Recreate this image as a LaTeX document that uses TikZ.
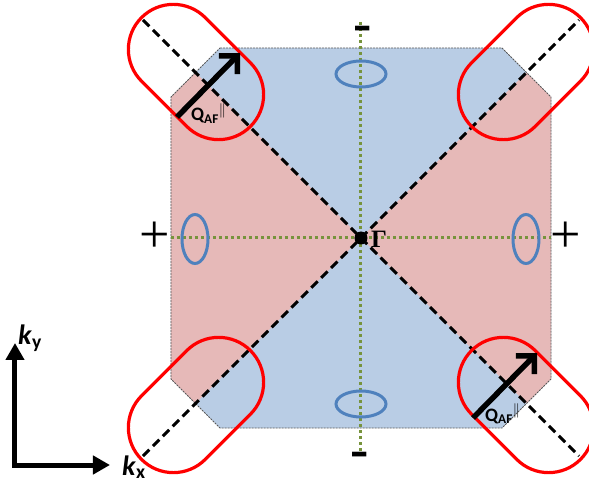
\documentclass[tikz,border=0pt]{standalone}
\usepackage{fontspec}
\setmainfont{Carlito}
\newfontfamily\serifT{Liberation Serif}
\usetikzlibrary{arrows.meta}
\definecolor{pinkfill}{HTML}{E6B9B8}
\definecolor{bluefill}{HTML}{B9CDE5}
\definecolor{ellblue}{HTML}{4F81BD}
\definecolor{axgreen}{HTML}{77933C}
\definecolor{octgray}{HTML}{595959}
\newcommand\capsuleshape[3]{%
  \begin{scope}[shift={(#1,#2)},rotate=#3]
    \draw[capsule] (-32,-45) -- (32,-45) arc[start angle=-90,end angle=90,radius=45]
      -- (-32,45) arc[start angle=90,end angle=270,radius=45] -- cycle;
  \end{scope}}
\begin{document}
\begin{tikzpicture}[x=1pt,y=1pt,
  octborder/.style={draw=octgray,line width=0.8pt,dash pattern=on 2pt off 1pt},
  greendot/.style={draw=axgreen,line width=3pt,dash pattern=on 3pt off 3pt},
  ellstyle/.style={draw=ellblue,line width=3pt},
  diag/.style={draw=black,line width=3pt,dash pattern=on 9pt off 5pt},
  capsule/.style={draw=red,line width=3.2pt},
  qarrow/.style={draw=black,line width=5.5pt,-{Straight Barb[length=13pt,width=26pt]}},
  axarrow/.style={draw=black,line width=5pt,-{Triangle[length=17pt,width=18pt]}},
  pm/.style={font=\serifT\fontsize{54}{54}\selectfont,inner sep=0pt,text height=27pt,text depth=0pt},
  mn/.style={font=\serifT\bfseries\fontsize{55}{55}\selectfont,inner sep=0pt,text height=21.4pt,text depth=0pt},
  qlab/.style={font=\bfseries\fontsize{19}{19}\selectfont,inner sep=0pt,anchor=base west},
  klab/.style={font=\bfseries\fontsize{28}{28}\selectfont,inner sep=0pt,anchor=base west}]
\useasboundingbox (-361,-246) rectangle (228,238);
% Brillouin zone
\fill[bluefill] (-141,190) -- (141,190) -- (190,141) -- (190,-141) -- (141,-190) -- (-141,-190) -- (-190,-141) -- (-190,141) -- cycle;
\begin{scope}
  \clip (-141,190) -- (141,190) -- (190,141) -- (190,-141) -- (141,-190) -- (-141,-190) -- (-190,-141) -- (-190,141) -- cycle;
  \fill[pinkfill] (0,0) -- (-300,300) -- (-300,-300) -- cycle;
  \fill[pinkfill] (0,0) -- (300,300) -- (300,-300) -- cycle;
\end{scope}
\draw[octborder] (-141,190) -- (141,190) -- (190,141) -- (190,-141) -- (141,-190) -- (-141,-190) -- (-190,-141) -- (-190,141) -- cycle;
% green axes
\coordinate (vt) at (0,216); \coordinate (vb) at (0,-215);
\coordinate (hl) at (-190,0); \coordinate (hr) at (190,0);
\draw[greendot] (vt) -- (vb);
\draw[greendot] (hl) -- (hr);
% small ellipses
\draw[ellstyle] (0,164) ellipse[x radius=25,y radius=13];
\draw[ellstyle] (0,-166) ellipse[x radius=25,y radius=13];
\draw[ellstyle] (-166,-1) ellipse[x radius=13,y radius=24.5];
\draw[ellstyle] (165,-1) ellipse[x radius=13,y radius=24.5];
% diagonals
\coordinate (d1a) at (-218,218); \coordinate (d1b) at (218,-218);
\coordinate (d2a) at (-218,-218); \coordinate (d2b) at (218,218);
\draw[diag] (d1a) -- (d1b);
\draw[diag] (d2a) -- (d2b);
% capsules
\capsuleshape{-165}{166}{-45}
\capsuleshape{165}{166}{45}
\capsuleshape{-165}{-167}{45}
\capsuleshape{165}{-167}{-45}
% Q arrows
\coordinate (q1s) at (-184,121); \coordinate (q1e) at (-121,185);
\coordinate (q2s) at (112,-180); \coordinate (q2e) at (176,-115);
\draw[qarrow] (q1s) -- (q1e);
\draw[qarrow] (q2s) -- (q2e);
\node[qlab] (q1l) at (-170,117) {Q\textsubscript{AF}\textsuperscript{\mdseries$\|$}};
\node[qlab] (q2l) at (124,-183) {Q\textsubscript{AF}\textsuperscript{\mdseries$\|$}};
% Gamma point
\node[circle,fill=black,inner sep=0pt,minimum size=13pt] (G) at (0,0) {};
\node[font=\serifT\bfseries\fontsize{25}{25}\selectfont,inner sep=0pt,anchor=base west] (Gl) at (10,-10) {Γ};
% signs
\node[pm] (pl) at (-206.5,-1.5) {+};
\node[pm] (pr) at (204.5,-1.5) {+};
\node[mn] (mt) at (2,207) {-};
\node[mn] (mb) at (-1,-219) {-};
% k axes
\coordinate (o) at (-346,-227);
\coordinate (oy) at (-346,-105); \coordinate (ox) at (-251,-227);
\coordinate (oys) at (-346,-229.5); \coordinate (oxs) at (-348.5,-227);
\draw[axarrow] (oys) -- (oy);
\draw[axarrow] (oxs) -- (ox);
\node[klab] (ky) at (-343,-107) {\textit{k}\textsubscript{y}};
\node[klab] (kx) at (-239,-237) {\textit{k}\textsubscript{x}};
\end{tikzpicture}
\end{document}
